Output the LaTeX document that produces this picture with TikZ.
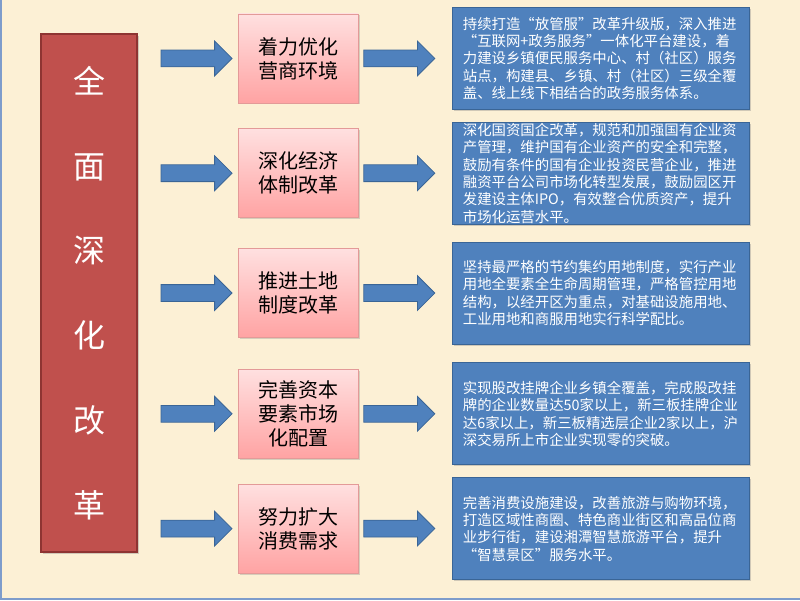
\documentclass[tikz,border=0pt]{standalone}
\usepackage{fontspec}
\setmainfont{Noto Sans CJK SC}
\usetikzlibrary{positioning,shapes.arrows,shadows}
\definecolor{parch}{HTML}{FCF0D5}
\definecolor{edgeblue}{HTML}{7E9CCB}
\definecolor{corered}{HTML}{C0504D}
\definecolor{coreline}{HTML}{8E3432}
\definecolor{arrowblue}{HTML}{4F81BD}
\definecolor{arrowline}{HTML}{3A6596}
\definecolor{pinktop}{HTML}{FFE0E0}
\definecolor{pinkbot}{HTML}{FFA3A3}
\definecolor{pinkline}{HTML}{E39A98}
\tikzset{
  core/.style={
      rectangle, draw=coreline, line width=1.2pt, fill=corered,
      minimum width=96pt, minimum height=518pt,
      text=white, align=center, font=\fontsize{32}{84.8}\selectfont,
      drop shadow={shadow xshift=1.5pt, shadow yshift=-1.5pt, opacity=.35},
  },
  reform/.style={
      rectangle, draw=pinkline, line width=.8pt,
      top color=pinktop, bottom color=pinkbot,
      minimum width=120pt, minimum height=89pt, inner sep=2pt,
      align=center, font=\fontsize{20}{24}\selectfont,
      drop shadow={shadow xshift=1.5pt, shadow yshift=-1.5pt, opacity=.3},
  },
  detail/.style={
      rectangle, draw=arrowline, line width=1pt, fill=arrowblue,
      text width=277pt, inner xsep=10pt, inner ysep=0pt, minimum height=102pt,
      align=left, text=white, font=\fontsize{14.4}{17.4}\selectfont,
      drop shadow={shadow xshift=1.5pt, shadow yshift=-1.5pt, opacity=.35},
  },
  blockarrow/.style={
    single arrow, draw=arrowline, line width=.8pt, fill=arrowblue,
    inner xsep=0pt, inner ysep=8pt, minimum height=71pt,
    single arrow head extend=9pt,
  }
}

\begin{document}
\begin{tikzpicture}[x=1pt,y=-1pt]
\useasboundingbox (0,0) rectangle (800,600);
\fill [parch] (0,0) rectangle (800,600);
\draw [edgeblue, line width=2pt] (1,0) -- (1,599) -- (800,599);

\node [core] (core) at (89,293) {全\\面\\深\\化\\改\\革};

\node [reform, right=100pt of core] (land) {推进土地\\制度改革};
\node [reform, above=30pt of land] (economy) {深化经济\\体制改革};
\node [reform, above=25pt of economy] (business) {着力优化\\营商环境};
\node [reform, below=31pt of land] (capital) {完善资本\\要素市场\\化配置};
\node [reform, below=25pt of capital] (consume) {努力扩大\\消费需求};

\node [blockarrow, left=5pt of business] (inbusiness) {};
\node [blockarrow, left=5pt of economy] (ineconomy) {};
\node [blockarrow, left=5pt of land] (inland) {};
\node [blockarrow, left=5pt of capital] (incapital) {};
\node [blockarrow, left=5pt of consume] (inconsume) {};

\node [blockarrow, right=5pt of business] (outbusiness) {};
\node [blockarrow, right=5pt of economy] (outeconomy) {};
\node [blockarrow, right=5pt of land] (outland) {};
\node [blockarrow, right=5pt of capital] (outcapital) {};
\node [blockarrow, right=5pt of consume] (outconsume) {};

\node [detail, right=17pt of outbusiness] (businessinfo) {持续打造“放管服”改革升级版，深入推进\\“互联网+政务服务”一体化平台建设，着\\力建设乡镇便民服务中心、村（社区）服务\\站点，构建县、乡镇、村（社区）三级全覆\\盖、线上线下相结合的政务服务体系。};
\node [detail, right=17pt of outeconomy] (economyinfo) {深化国资国企改革，规范和加强国有企业资\\产管理，维护国有企业资产的安全和完整，\\鼓励有条件的国有企业投资民营企业，推进\\融资平台公司市场化转型发展，鼓励园区开\\发建设主体IPO，有效整合优质资产，提升\\市场化运营水平。};
\node [detail, right=17pt of outland] (landinfo) {坚持最严格的节约集约用地制度，实行产业\\用地全要素全生命周期管理，严格管控用地\\结构，以经开区为重点，对基础设施用地、\\工业用地和商服用地实行科学配比。};
\node [detail, right=17pt of outcapital] (capitalinfo) {实现股改挂牌企业乡镇全覆盖，完成股改挂\\牌的企业数量达50家以上，新三板挂牌企业\\达6家以上，新三板精选层企业2家以上，沪\\深交易所上市企业实现零的突破。};
\node [detail, right=17pt of outconsume] (consumeinfo) {完善消费设施建设，改善旅游与购物环境，\\打造区域性商圈、特色商业街区和高品位商\\业步行街，建设湘潭智慧旅游平台，提升\\“智慧景区”服务水平。};
\end{tikzpicture}
\end{document}
